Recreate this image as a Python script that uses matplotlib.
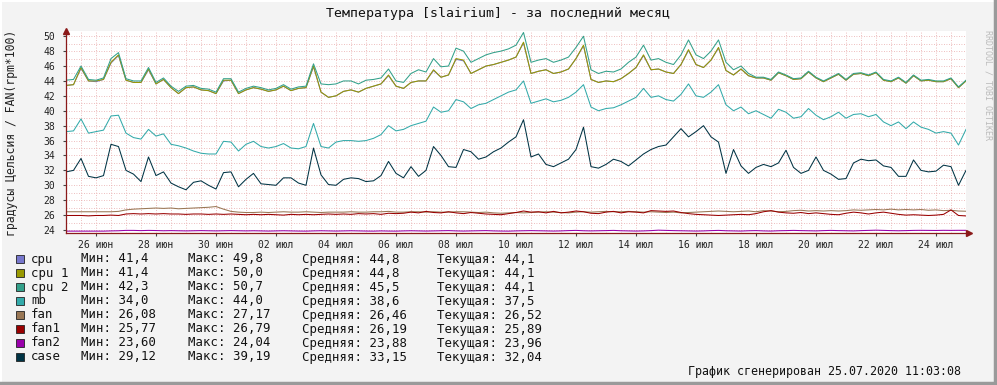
import matplotlib
matplotlib.use("Agg")
import matplotlib.pyplot as plt
import numpy as np

W, H = 997, 385

# ---- data (6-hour steps, day 0 = left edge of the plot) ----
cpu2 = [44.1, 44.2, 46.0, 44.2, 44.1, 44.4, 47.0, 47.8, 44.3, 44.0, 44.0, 45.8, 43.8,
        44.4, 43.3, 42.6, 43.3, 43.4, 43.0, 42.9, 42.5, 44.3, 44.3, 42.5, 43.0, 43.3,
        43.1, 42.8, 43.0, 43.5, 42.9, 43.2, 43.3, 46.3, 43.6, 43.5, 43.6, 44.0, 44.0,
        43.6, 44.1, 44.2, 44.4, 45.6, 44.0, 43.8, 45.0, 45.5, 45.2, 47.0, 45.9, 46.0,
        48.4, 48.0, 46.5, 47.0, 47.5, 47.8, 48.0, 48.3, 48.8, 50.5, 46.5, 46.8, 47.0,
        46.5, 46.8, 47.2, 48.5, 50.0, 45.5, 45.0, 45.3, 45.2, 45.6, 46.5, 47.2, 48.8,
        46.8, 47.0, 46.5, 46.2, 47.5, 49.5, 47.5, 47.0, 48.0, 49.5, 46.5, 45.5, 46.0,
        45.0, 44.5, 44.5, 44.2, 45.2, 44.8, 44.3, 44.4, 45.3, 44.5, 44.0, 44.5, 45.0,
        44.2, 45.0, 45.1, 44.8, 45.2, 44.2, 44.0, 44.5, 43.8, 44.8, 44.1, 44.2, 44.0,
        44.0, 44.4, 43.2, 44.1]
cpu1 = [43.4, 43.5, 45.8, 44.0, 44.0, 44.2, 46.5, 47.5, 44.1, 43.8, 43.8, 45.6, 43.6,
        44.2, 43.1, 42.3, 43.1, 43.2, 42.8, 42.7, 42.3, 44.1, 44.1, 42.3, 42.8, 43.1,
        42.9, 42.6, 42.8, 43.3, 42.7, 43.0, 43.1, 46.0, 42.5, 41.8, 42.0, 42.6, 42.8,
        42.5, 43.0, 43.3, 43.6, 44.8, 43.3, 43.0, 43.8, 44.0, 44.0, 45.5, 44.5, 44.8,
        47.0, 46.8, 45.0, 45.5, 46.0, 46.2, 46.5, 46.8, 47.2, 49.2, 45.0, 45.3, 45.5,
        45.0, 45.2, 45.6, 47.0, 48.8, 44.2, 43.8, 44.0, 43.9, 44.3, 45.0, 45.8, 47.5,
        45.5, 45.6, 45.2, 45.0, 46.2, 48.2, 46.2, 45.8, 46.8, 48.5, 45.4, 44.8, 45.6,
        44.7, 44.4, 44.4, 44.1, 45.1, 44.7, 44.2, 44.3, 45.2, 44.4, 43.9, 44.4, 44.9,
        44.1, 44.9, 45.0, 44.7, 45.1, 44.1, 43.9, 44.4, 43.7, 44.7, 44.0, 44.1, 43.9,
        43.9, 44.3, 43.1, 44.0]
cpu = [43.4, 43.5, 45.7, 44.0, 43.9, 44.2, 46.4, 47.4, 44.1, 43.8, 43.8, 45.5, 43.6,
       44.2, 43.1, 42.3, 43.1, 43.2, 42.8, 42.7, 42.3, 44.0, 44.1, 42.3, 42.8, 43.1,
       42.9, 42.6, 42.8, 43.3, 42.7, 43.0, 43.1, 45.9, 42.5, 41.8, 42.0, 42.6, 42.8,
       42.5, 43.0, 43.3, 43.6, 44.7, 43.3, 43.0, 43.8, 44.0, 44.0, 45.4, 44.5, 44.8,
       46.9, 46.7, 45.0, 45.5, 46.0, 46.2, 46.5, 46.8, 47.2, 49.1, 45.0, 45.3, 45.5,
       45.0, 45.2, 45.6, 47.0, 48.7, 44.2, 43.8, 44.0, 43.9, 44.3, 45.0, 45.8, 47.4,
       45.5, 45.6, 45.2, 45.0, 46.2, 48.1, 46.2, 45.8, 46.8, 48.4, 45.4, 44.8, 45.6,
       44.7, 44.4, 44.4, 44.1, 45.1, 44.7, 44.2, 44.3, 45.2, 44.4, 43.9, 44.4, 44.9,
       44.1, 44.9, 45.0, 44.7, 45.1, 44.1, 43.9, 44.4, 43.7, 44.7, 44.0, 44.1, 43.9,
       43.9, 44.3, 43.1, 44.0]
mb = [37.2, 37.3, 38.9, 37.0, 37.2, 37.4, 39.3, 39.4, 37.0, 36.4, 36.2, 37.5, 36.6,
      36.9, 35.5, 35.3, 35.0, 34.6, 34.3, 34.2, 34.2, 35.9, 35.8, 34.6, 35.5, 35.9,
      35.2, 35.0, 35.2, 35.6, 35.0, 34.9, 35.2, 38.3, 35.2, 35.0, 35.8, 36.0, 36.0,
      35.9, 36.0, 36.3, 36.8, 38.0, 37.3, 37.5, 38.0, 38.3, 38.6, 40.5, 39.8, 40.0,
      41.5, 41.2, 40.3, 40.8, 41.0, 41.5, 42.0, 42.5, 42.8, 44.0, 41.0, 41.3, 41.6,
      41.2, 41.4, 41.8, 42.5, 43.5, 40.5, 40.0, 40.3, 40.4, 40.8, 41.3, 41.8, 43.0,
      41.8, 42.0, 41.5, 41.3, 42.2, 43.6, 42.0, 41.8, 42.5, 43.5, 40.8, 40.0, 40.5,
      39.6, 40.0, 39.5, 39.0, 40.2, 39.8, 39.0, 39.2, 40.3, 39.4, 38.8, 39.2, 39.8,
      39.0, 39.5, 39.6, 39.2, 39.5, 38.5, 38.0, 38.5, 37.6, 38.5, 37.8, 37.5, 37.0,
      37.2, 37.0, 35.4, 37.5]
fan = [26.45, 26.45, 26.45, 26.45, 26.45, 26.45, 26.45, 26.50,
       26.70, 26.80, 26.85, 26.90, 26.95, 26.90, 26.95, 26.85, 26.90, 26.95, 27.00, 27.05,
       27.15, 26.80, 26.50, 26.40,
       26.35, 26.35, 26.40, 26.35, 26.40, 26.45, 26.40, 26.40,
       26.45, 26.40, 26.35, 26.40, 26.40, 26.40, 26.45, 26.40,
       26.40, 26.45, 26.45, 26.50, 26.40, 26.40, 26.45, 26.45,
       26.40, 26.45, 26.40, 26.40, 26.45, 26.45, 26.40, 26.35,
       26.40, 26.30, 26.25, 26.30, 26.35, 26.30, 26.35, 26.40,
       26.45, 26.40, 26.35, 26.30, 26.40, 26.45, 26.40, 26.45,
       26.50, 26.45, 26.45, 26.50, 26.45, 26.40, 26.45, 26.40,
       26.35, 26.40, 26.30, 26.35, 26.40, 26.45, 26.50, 26.55,
       26.50, 26.45, 26.50, 26.55, 26.45, 26.60, 26.55, 26.45,
       26.50, 26.60, 26.65, 26.55, 26.60, 26.55, 26.60, 26.55,
       26.60, 26.70, 26.65, 26.70, 26.75, 26.70, 26.80, 26.70,
       26.75, 26.70, 26.75, 26.65, 26.70, 26.60, 26.65, 26.55, 26.52]
fan1 = [25.95, 25.95, 25.95, 25.90, 25.95, 25.95, 26.00, 25.95,
        26.15, 26.20, 26.15, 26.20, 26.15, 26.20, 26.15, 26.15,
        26.10, 26.15, 26.15, 26.10, 26.15, 26.10, 26.15, 26.10,
        26.05, 26.10, 26.05, 26.10, 26.05, 26.00, 26.10, 26.05,
        26.10, 26.05, 26.10, 26.15, 26.10, 26.15, 26.10, 26.20,
        26.15, 26.20, 26.10, 26.25, 26.20, 26.25, 26.40, 26.30,
        26.50, 26.35, 26.30, 26.45, 26.30, 26.20, 26.35, 26.25,
        26.15, 26.10, 26.05, 26.20, 26.35, 26.55, 26.40, 26.45,
        26.30, 26.50, 26.30, 26.40, 26.55, 26.45, 26.25, 26.20,
        26.40, 26.50, 26.30, 26.45, 26.40, 26.30, 26.60, 26.55,
        26.50, 26.55, 26.35, 26.20, 26.10, 26.05, 26.00, 25.95,
        26.00, 26.05, 26.10, 26.05, 26.20, 26.45, 26.60, 26.40,
        26.30, 26.25, 26.35, 26.20, 26.30, 26.20, 26.10, 26.05,
        26.25, 26.40, 26.30, 26.15, 26.30, 26.40, 26.25, 26.10,
        26.00, 26.05, 26.00, 25.95, 26.00, 26.10, 26.70, 25.95, 25.89]
fan2 = [23.85, 23.85, 23.85, 23.85, 23.85, 23.85, 23.88, 23.90,
        23.95, 23.95, 23.92, 23.95, 23.93, 23.90, 23.92, 23.90,
        23.88, 23.90, 23.92, 23.90, 23.88, 23.90, 23.92, 23.90,
        23.88, 23.90, 23.88, 23.86, 23.88, 23.90, 23.88, 23.86,
        23.85, 23.88, 23.90, 23.88, 23.86, 23.88, 23.90, 23.88,
        23.86, 23.85, 23.88, 23.86, 23.85, 23.88, 23.90, 23.88,
        23.86, 23.88, 23.90, 23.92, 23.88, 23.86, 23.88, 23.90,
        23.92, 23.88, 23.86, 23.85, 23.88, 23.90, 23.92, 23.90,
        23.88, 23.86, 23.88, 23.92, 23.95, 23.90, 23.88, 23.90,
        23.92, 23.95, 23.90, 23.88, 23.86, 23.88, 23.92, 23.98,
        23.95, 23.92, 23.90, 23.88, 23.86, 23.88, 23.92, 23.95,
        23.90, 23.88, 23.86, 23.90, 23.92, 23.88, 23.86, 23.90,
        23.92, 23.95, 23.92, 23.90, 23.88, 23.92, 23.95, 23.92,
        23.90, 23.88, 23.92, 23.95, 23.98, 23.95, 23.92, 23.90,
        23.92, 23.95, 23.96, 23.95, 23.94, 23.96, 23.95, 23.96, 23.96]
case = [31.8, 32.0, 33.6, 31.2, 31.0, 31.3, 35.5, 35.2, 32.0, 31.5, 30.5, 33.8, 31.3,
        31.8, 30.3, 29.8, 29.4, 30.4, 30.6, 30.0, 29.5, 31.7, 31.8, 29.8, 30.8, 31.6,
        30.2, 30.1, 30.0, 31.0, 31.0, 30.3, 30.0, 35.0, 31.4, 30.1, 30.0, 30.8, 31.0,
        30.9, 30.5, 30.6, 31.3, 33.2, 31.6, 31.0, 32.5, 31.2, 32.0, 35.2, 34.0, 32.5,
        32.4, 34.8, 34.5, 33.5, 33.8, 34.5, 35.0, 35.8, 36.5, 38.8, 33.8, 34.2, 32.8,
        32.5, 33.0, 33.5, 34.8, 37.8, 32.5, 32.3, 32.8, 33.5, 33.2, 32.6, 33.4, 34.2,
        34.8, 35.2, 35.4, 36.5, 37.6, 36.5, 37.2, 38.0, 36.5, 35.8, 31.6, 34.8, 32.6,
        31.6, 32.4, 32.8, 32.5, 33.0, 34.7, 32.4, 31.6, 32.0, 33.8, 32.0, 31.5, 30.8,
        30.9, 33.0, 33.5, 33.3, 33.4, 32.6, 32.4, 31.2, 31.2, 33.4, 32.0, 31.8, 31.9,
        32.7, 32.5, 30.0, 32.0]

series = [cpu, cpu1, cpu2, mb, fan, fan1, fan2, case]
names = ["cpu", "cpu 1", "cpu 2", "mb", "fan", "fan1", "fan2", "case"]
colors = ["#7777CC", "#999900", "#33A08A", "#33AAAA", "#997755", "#990000", "#9900AA", "#003344"]
mins = ["41,4", "41,4", "42,3", "34,0", "26,08", "25,77", "23,60", "29,12"]
maxs = ["49,8", "50,0", "50,7", "44,0", "27,17", "26,79", "24,04", "39,19"]
avgs = ["44,8", "44,8", "45,5", "38,6", "26,46", "26,19", "23,88", "33,15"]
curs = ["44,1", "44,1", "44,1", "37,5", "26,52", "25,89", "23,96", "32,04"]

tick_days = [1, 3, 5, 7, 9, 11, 13, 15, 17, 19, 21, 23, 25, 27, 29]
tick_labels = ["26 июн", "28 июн", "30 июн", "02 июл", "04 июл", "06 июл", "08 июл",
               "10 июл", "12 июл", "14 июл", "16 июл", "18 июл", "20 июл", "22 июл", "24 июл"]

MONO = "DejaVu Sans Mono"
plt.rcParams["font.family"] = MONO

fig = plt.figure(figsize=(W / 100, H / 100), dpi=100, facecolor="#F3F3F3")


def fx(px):
    return px / W


def fy(py):
    return 1 - py / H


# frame shading like rrdtool
fig.add_artist(plt.Line2D([0, 1], [fy(1), fy(1)], color="#FFFFFF", lw=1.5))
fig.add_artist(plt.Line2D([fx(1), fx(1)], [0, 1], color="#FFFFFF", lw=1.5))
fig.add_artist(plt.Line2D([0, 1], [fy(383), fy(383)], color="#9A9A9A", lw=2.5))
fig.add_artist(plt.Line2D([fx(995), fx(995)], [0, 1], color="#9A9A9A", lw=2.5))

ax = fig.add_axes([fx(66), fy(233), 900 / W, 202 / H])
ax.set_facecolor("white")
ax.set_xlim(0, 30)
ax.set_ylim(23.6, 50.7)

# grid
for d in np.arange(0.5, 30, 0.5):
    ax.axvline(d, color="#E8A8A8", lw=0.6, ls=(0, (1, 2)), zorder=0)
for v in range(24, 51):
    ax.axhline(v, color="#E8A8A8", lw=0.6, ls=(0, (1, 2)), zorder=0)

for vals, col in zip(series, colors):
    x = np.arange(len(vals)) / 4
    ax.plot(x, vals, color=col, lw=0.75, zorder=2)

ax.set_xticks(tick_days)
ax.set_xticklabels(tick_labels)
ax.set_yticks(range(24, 51, 2))
ax.tick_params(axis="both", length=2, width=0.8, color="#444444", labelsize=7, labelcolor="#222222")
ax.tick_params(axis="y", pad=6)
ax.tick_params(axis="x", pad=3)
for s in ["top", "right"]:
    ax.spines[s].set_visible(False)
for s in ["left", "bottom"]:
    ax.spines[s].set_color("#8B1A1A")
    ax.spines[s].set_linewidth(0.9)
ax.plot([0], [1.0], marker="^", color="#8B1A1A", ms=4, transform=ax.transAxes, clip_on=False)
ax.plot([1.003], [0], marker=">", color="#8B1A1A", ms=4, transform=ax.transAxes, clip_on=False)

fig.text(fx(498), fy(13), "Температура [slairium] - за последний месяц",
         ha="center", va="center", fontsize=9.5, color="#111111")
fig.text(fx(12), fy(133), "градусы Цельсия / FAN(rpm*100)", rotation=90,
         ha="center", va="center", fontsize=8.3, color="#222222")
fig.text(fx(988), fy(30), "RRDTOOL / TOBI OETIKER", rotation=-90,
         ha="center", va="top", fontsize=6, color="#BBBBBB")

# legend
for k, name in enumerate(names):
    y = 259 + 14 * k
    fig.patches.append(plt.Rectangle((fx(16), fy(y + 4)), 8 / W, 8 / H, transform=fig.transFigure,
                                     facecolor=colors[k], edgecolor="#222222", lw=0.6))
    fig.text(fx(31), fy(y), name, va="center", fontsize=8.9, color="#111111")
    fig.text(fx(81), fy(y), "Мин: " + mins[k], va="center", fontsize=8.9, color="#111111")
    fig.text(fx(188), fy(y), "Макс: " + maxs[k], va="center", fontsize=8.9, color="#111111")
    fig.text(fx(302), fy(y), "Средняя: " + avgs[k], va="center", fontsize=8.9, color="#111111")
    fig.text(fx(437), fy(y), "Текущая: " + curs[k], va="center", fontsize=8.9, color="#111111")

fig.text(fx(961), fy(371), "График сгенерирован 25.07.2020 11:03:08",
         ha="right", va="center", fontsize=8.4, color="#111111")

fig.savefig("out.png", dpi=100, facecolor=fig.get_facecolor())
